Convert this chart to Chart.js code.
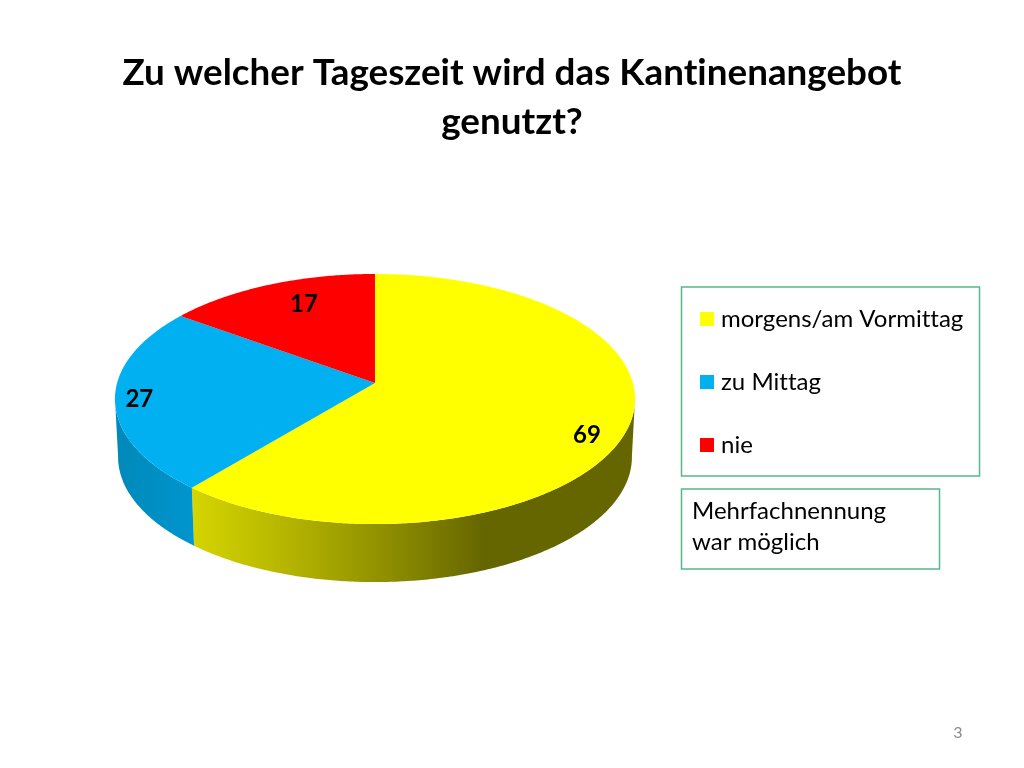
<!DOCTYPE html>
<html lang="de">
<head>
<meta charset="utf-8">
<style>
html,body{margin:0;padding:0;background:#fff;width:1024px;height:768px;overflow:hidden}
#wrap{position:absolute;left:0;top:0;width:1024px;height:768px}
</style>
<script src="https://cdn.jsdelivr.net/npm/chart.js@4/dist/chart.umd.min.js"></script>
</head>
<body>
<div id="wrap"><canvas id="c" width="1024" height="768"></canvas></div>
<script>
const titleLines = ['Zu welcher Tageszeit wird das Kantinenangebot', 'genutzt?'];
const categories = ['morgens/am Vormittag', 'zu Mittag', 'nie'];
const values = [69, 27, 17];
const colors = ['#ffff00', '#00b0f0', '#ff0000'];
const noteLines = ['Mehrfachnennung', 'war möglich'];
const pageNumber = '3';

// perspective disc geometry
const CX = 375, CY = 383, A = 257.9, B = 123, K = 0.128, DEPTH = 58, BOTTOM_SCALE = 0.988;
const FONT = 'Lato, Carlito, sans-serif';
const BORDER = '#55b88f';

function project(theta, f) {
  const u = Math.sin(theta) * f, v = -Math.cos(theta) * f, w = 1 - K * v;
  return { dx: A * u / w, dy: B * v / w };
}
function rimPath(ctx, t0, t1, depth, scale, first) {
  const n = Math.max(2, Math.ceil(Math.abs(t1 - t0) / 0.01));
  for (let i = 0; i <= n; i++) {
    const p = project(t0 + (t1 - t0) * i / n, 1);
    const x = CX + p.dx * scale, y = CY + p.dy + depth;
    if (i === 0 && first) ctx.moveTo(x, y); else ctx.lineTo(x, y);
  }
}
const VIS0 = 97 * Math.PI / 180, VIS1 = 263 * Math.PI / 180;

const disc3d = {
  id: 'disc3d',
  beforeDraw(chart) {
    chart.ctx.letterSpacing = '0.01px'; // keeps "tt" as two separate letters
  },
  afterLayout(chart) {
    const l = chart.legend;
    const w = l.right - l.left, h = l.bottom - l.top;
    l.left = 666; l.right = l.left + w;
    l.top = 268; l.bottom = l.top + h;
  },
  beforeDatasetDraw(chart) {
    const ctx = chart.ctx;
    const arcs = chart.getDatasetMeta(0).data;
    const th = a => a + Math.PI / 2;
    // side walls
    arcs.forEach((arc, i) => {
      const t0 = Math.max(th(arc.startAngle), VIS0), t1 = Math.min(th(arc.endAngle), VIS1);
      if (t1 <= t0) return;
      ctx.beginPath();
      rimPath(ctx, t0, t1, 0, 1, true);
      rimPath(ctx, t1, t0, DEPTH, BOTTOM_SCALE, false);
      ctx.closePath();
      if (i === 0) {
        const g = ctx.createLinearGradient(190, 0, 640, 0);
        g.addColorStop(0, '#d6d600');
        g.addColorStop(0.22, '#b4b400');
        g.addColorStop(0.45, '#8c8c00');
        g.addColorStop(0.65, '#666600');
        g.addColorStop(1, '#666600');
        ctx.fillStyle = g;
      } else {
        const b = ctx.createLinearGradient(115, 0, 195, 0);
        b.addColorStop(0, '#0088b8');
        b.addColorStop(1, '#0096cf');
        ctx.fillStyle = b;
      }
      ctx.fill();
    });
    // top faces
    arcs.forEach(arc => {
      ctx.beginPath();
      ctx.moveTo(CX, CY);
      rimPath(ctx, th(arc.startAngle), th(arc.endAngle), 0, 1, false);
      ctx.closePath();
      ctx.fillStyle = arc.options.backgroundColor;
      ctx.fill();
    });
    // value labels
    const radial = [0.85, 0.9, 0.75], nudgeX = [-2, -2, 10], nudgeY = [15, 2, -3];
    ctx.fillStyle = '#000';
    ctx.font = 'bold 24px ' + FONT;
    ctx.textAlign = 'center';
    ctx.textBaseline = 'middle';
    arcs.forEach((arc, i) => {
      const mid = (arc.startAngle + arc.endAngle) / 2 + Math.PI / 2;
      const p = project(mid, radial[i]);
      ctx.fillText(String(values[i]), CX + p.dx + nudgeX[i], CY + p.dy + nudgeY[i]);
    });
    return false;
  },
  afterDraw(chart) {
    const ctx = chart.ctx;
    ctx.save();
    ctx.strokeStyle = BORDER;
    ctx.lineWidth = 1.5;
    ctx.strokeRect(681.5, 287, 298, 189);
    ctx.strokeRect(681.5, 489, 258, 80);
    ctx.fillStyle = '#000';
    ctx.font = '24px ' + FONT;
    ctx.textAlign = 'left';
    ctx.textBaseline = 'middle';
    noteLines.forEach((t, i) => ctx.fillText(t, 692, 511 + i * 31));
    ctx.fillStyle = '#8b8b8b';
    ctx.font = '16px ' + FONT;
    ctx.textAlign = 'center';
    ctx.fillText(pageNumber, 958, 733);
    ctx.restore();
  }
};

new Chart(document.getElementById('c'), {
  type: 'pie',
  plugins: [disc3d],
  data: {
    labels: categories,
    datasets: [{ data: values, backgroundColor: colors, borderWidth: 0 }]
  },
  options: {
    responsive: false,
    animation: false,
    events: [],
    plugins: {
      title: {
        display: true,
        text: titleLines,
        color: '#000',
        align: 'center',
        padding: { top: 49, bottom: 0 },
        font: { family: FONT, size: 36.8, weight: 'bold', lineHeight: 49 / 36.8 }
      },
      legend: {
        display: true,
        position: 'right',
        align: 'start',
        labels: {
          color: '#000',
          font: { family: FONT, size: 24 },
          padding: 39,
          usePointStyle: true,
          pointStyle: 'rect',
          boxWidth: 4,
          boxHeight: 14
        }
      },
      tooltip: { enabled: false }
    }
  }
});
</script>
</body>
</html>
